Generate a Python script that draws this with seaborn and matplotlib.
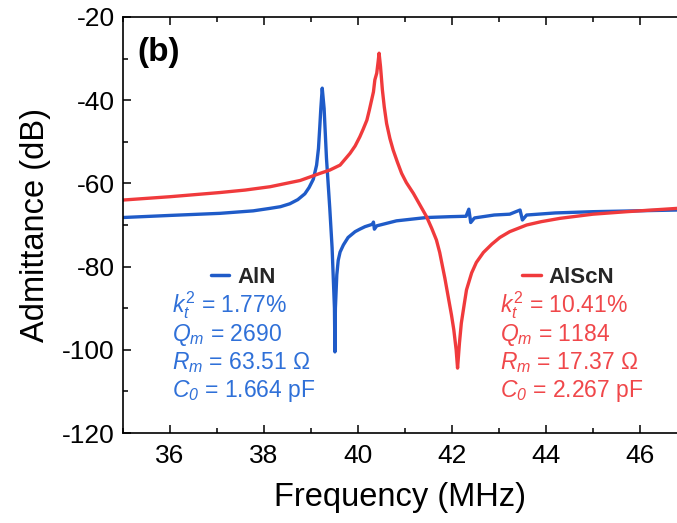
import matplotlib
matplotlib.use("Agg")
import matplotlib.pyplot as plt
from matplotlib.lines import Line2D
from matplotlib.ticker import MultipleLocator
import pandas as pd
import seaborn as sns

# Measured admittance spectra (frequency in MHz, admittance in dB)
aln_freq = [35.0, 36.0, 37.06, 37.77, 38.13, 38.35, 38.55, 38.72, 38.87, 38.96,
            39.05, 39.12, 39.16, 39.19, 39.21, 39.24, 39.28, 39.33, 39.40, 39.45,
            39.50, 39.51, 39.52, 39.55, 39.58, 39.62, 39.69, 39.79, 39.94, 40.04,
            40.15, 40.26, 40.31, 40.33, 40.35, 40.40, 40.82, 41.46, 41.96, 42.30,
            42.36, 42.40, 42.48, 42.90, 43.23, 43.45, 43.50, 43.59, 44.20, 45.0,
            46.8]
aln_db = [-68.2, -67.7, -67.2, -66.6, -66.0, -65.6, -64.9, -63.9, -62.5, -61.0,
          -59.0, -55.6, -51.6, -46.0, -42.0, -37.1, -42.0, -53.9, -65.9, -75.5,
          -90.0, -100.5, -90.0, -82.0, -78.5, -76.5, -74.8, -73.0, -71.6, -71.0,
          -70.4, -70.0, -69.8, -69.3, -71.0, -70.2, -69.0, -68.2, -68.0, -67.9,
          -66.2, -69.4, -68.3, -67.6, -67.4, -66.4, -68.8, -67.6, -67.1, -66.8,
          -66.4]

alscn_freq = [35.0, 36.0, 37.06, 37.6, 38.13, 38.77, 39.19, 39.40, 39.62, 39.83,
              39.94, 40.04, 40.11, 40.19, 40.24, 40.29, 40.33, 40.36, 40.40, 40.43,
              40.45, 40.48, 40.52, 40.56, 40.61, 40.68, 40.75, 40.84, 40.93, 41.03,
              41.18, 41.32, 41.46, 41.57, 41.67, 41.74, 41.85, 41.92, 41.99, 42.04,
              42.09, 42.12, 42.16, 42.20, 42.26, 42.31, 42.42, 42.52, 42.67, 42.85,
              43.02, 43.23, 43.59, 43.90, 44.30, 45.0, 45.72, 46.8]
alscn_db = [-64.0, -63.2, -62.2, -61.6, -60.8, -59.3, -57.6, -56.8, -55.6, -52.8,
            -51.0, -48.8, -47.0, -44.8, -42.5, -40.0, -38.0, -35.1, -33.5, -30.7,
            -28.7, -31.9, -37.5, -41.6, -45.6, -49.2, -52.0, -54.9, -57.6, -59.8,
            -62.4, -65.2, -68.0, -70.8, -73.6, -76.6, -82.8, -87.2, -91.6, -95.2,
            -100.0, -104.4, -98.4, -93.6, -89.2, -85.6, -81.5, -79.0, -76.6, -74.6,
            -73.0, -71.6, -70.0, -69.2, -68.4, -67.4, -66.8, -66.0]

materials = ["AlN", "AlScN"]
aln_stats = [r"$k_t^2$ = 1.77%", r"$Q_m$ = 2690", r"$R_m$ = 63.51 Ω", r"$C_{\mathsf{0}}$ = 1.664 pF"]
alscn_stats = [r"$k_t^2$ = 10.41%", r"$Q_m$ = 1184", r"$R_m$ = 17.37 Ω", r"$C_{\mathsf{0}}$ = 2.267 pF"]

x_ticks = [36, 38, 40, 42, 44, 46]
y_ticks = [-120, -100, -80, -60, -40, -20]

line_blue = "#1f5bc8"
line_red = "#f03a3c"
text_blue = "#2f70d8"
text_red = "#f0474a"

df = pd.concat([
    pd.DataFrame({"Frequency": aln_freq, "Admittance": aln_db, "Material": materials[0]}),
    pd.DataFrame({"Frequency": alscn_freq, "Admittance": alscn_db, "Material": materials[1]}),
], ignore_index=True)

sns.set_style("ticks")
plt.rcParams["font.family"] = ["Liberation Sans", "DejaVu Sans"]
plt.rcParams["axes.unicode_minus"] = False
plt.rcParams["mathtext.fontset"] = "custom"
plt.rcParams["mathtext.rm"] = "Liberation Sans"
plt.rcParams["mathtext.it"] = "Liberation Sans:italic"
plt.rcParams["mathtext.sf"] = "Liberation Sans:italic"
plt.rcParams["mathtext.bf"] = "Liberation Sans:bold"

fig = plt.figure(figsize=(6.77, 5.23), dpi=100)
ax = fig.add_axes([123 / 677, 90 / 523, 554 / 677, 416 / 523])

palette = {materials[0]: line_blue, materials[1]: line_red}
sns.lineplot(data=df, x="Frequency", y="Admittance", hue="Material", palette=palette,
             sort=False, estimator=None, linewidth=2.4, legend=False, ax=ax)
for ln in ax.get_lines():
    ln.set_solid_joinstyle("round")

ax.set_xlim(35, 46.79)
ax.set_ylim(-120, -20)
ax.set_xticks(x_ticks)
ax.set_yticks(y_ticks)
ax.xaxis.set_minor_locator(MultipleLocator(1))
ax.yaxis.set_minor_locator(MultipleLocator(10))
ax.tick_params(which="both", direction="in", top=True, right=False, width=1.1,
               color="black", labelcolor="black")
ax.tick_params(which="major", length=6, labelsize=19, pad=6)
ax.tick_params(which="minor", length=3.5)
ax.tick_params(axis="x", which="major", pad=8)
for side in ["left", "bottom", "top"]:
    ax.spines[side].set_linewidth(1.2)
    ax.spines[side].set_color("black")
ax.spines["right"].set_visible(False)

ax.set_xlabel("Frequency (MHz)", fontsize=23.5, labelpad=10, color="black")
ax.set_ylabel("Admittance (dB)", fontsize=23.5, labelpad=8, color="black")

ax.text(0.026, 0.895, "(b)", transform=ax.transAxes, fontsize=24, fontweight="bold",
        va="baseline", ha="left", color="black")

# Legend entries for each material
leg_kw = dict(frameon=False, borderpad=0, borderaxespad=0,
              handlelength=0.85, handletextpad=0.35, loc="center left",
              prop={"weight": "bold", "size": 16})
leg1 = ax.legend(handles=[Line2D([], [], color=line_blue, lw=2.5)], labels=[materials[0]],
                 bbox_to_anchor=(0.158, 0.374), **leg_kw)
ax.add_artist(leg1)
ax.legend(handles=[Line2D([], [], color=line_red, lw=2.5)], labels=[materials[1]],
          bbox_to_anchor=(0.72, 0.374), **leg_kw)

# Fitted resonator parameters
baselines = [0.290, 0.222, 0.154, 0.087]
for yb, s in zip(baselines, aln_stats):
    ax.text(0.088, yb, s, transform=ax.transAxes, fontsize=16.5, color=text_blue,
            va="baseline", ha="left")
for yb, s in zip(baselines, alscn_stats):
    ax.text(0.68, yb, s, transform=ax.transAxes, fontsize=16.5, color=text_red,
            va="baseline", ha="left")

fig.savefig("out.png", dpi=100)
